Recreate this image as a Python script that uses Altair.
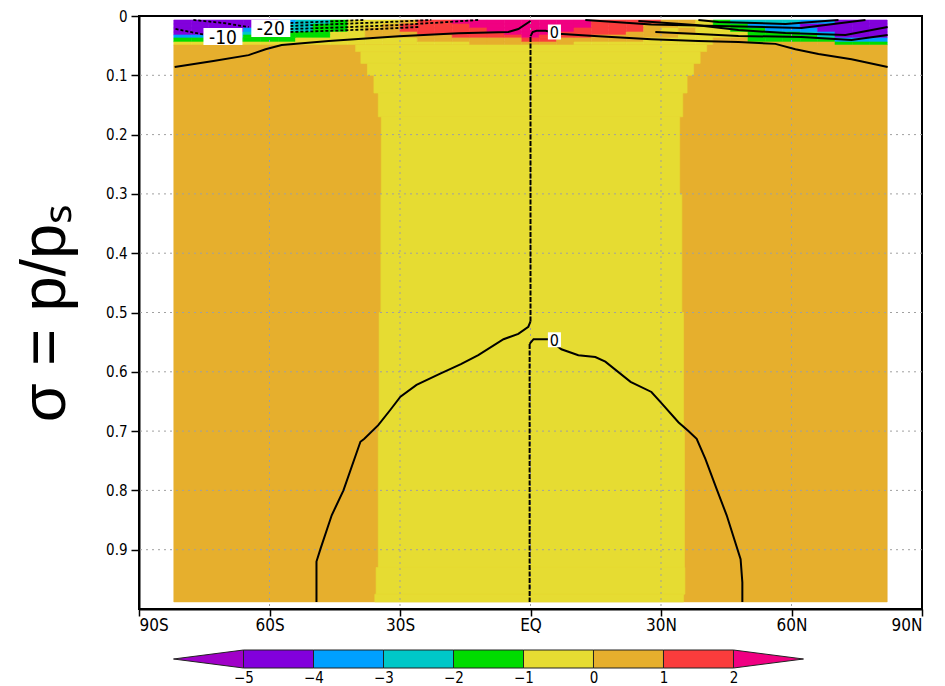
import altair as alt
import pandas as pd

FONT = "'DejaVu Sans Condensed', 'Liberation Sans Narrow', 'DejaVu Sans', sans-serif"

# ---------------- shading classes ----------------
class_codes = ["L", "V", "B", "C", "G", "Y", "O", "R", "M"]
class_colors = ["#a000c8", "#8200dc", "#00a0ff", "#00c8c8", "#00dc00",
                "#e6dc32", "#e6af2d", "#fa3c3c", "#f00082"]

# ---------------- upper (near-top) rows of the field ----------------
top_sigma_edges = [0.0067, 0.0135, 0.0202, 0.027, 0.032, 0.037, 0.0438, 0.049]
top_lat_start = -82.0
top_lat_step = 4.0
top_rows = [
    "VVVVVVBCCGYYYORRMMMMMMMMRRRROOYGCCCCBBVVV",
    "VVVVVBCCGGYYORRRRMMMMMMMRRROOYYGGBBBVVVVV",
    "VVVVBCCCGGYOORRRRRMMMMMRRRROYOYYGGBBBVVVV",
    "VVVBCCGGGYYOOORRRRRMMMRRRROOOOYYYGGGCBVVV",
    "BBBCGGGGGYYOOOOORRRRMRRROOOOOYYYYGGGGCVVV",
    "GGGGGGGYYYYYYYOOOOOORROOOOOYYYYOOGGGGGBBB",
    "YYYYYYYYYYYYYYYYYOOOOOOYYYYYYYYOOOOOOOGGG",
]

# ---------------- bulk of the field: orange flanks, yellow tropics ----------------
field_lat_edges = [-82.0, 82.0]
bulk_sigma_edges = [0.049, 0.06, 0.08, 0.10, 0.13, 0.17, 0.30, 0.50, 0.70, 0.93, 0.975, 0.988]
bulk_yellow_left = [-40.2, -39.0, -37.5, -36.0, -35.0, -34.3, -34.4, -34.8, -35.0, -35.5, -35.8]
bulk_yellow_right = [40.5, 39.0, 37.5, 36.0, 35.0, 34.3, 34.8, 35.2, 35.4, 35.5, 35.2]

# ---------------- contour lines (lat, sigma) ----------------
solid_lines = {
    "zero_sw": ([-49.2, -49.2, -48.3, -45.7, -43.0, -39.1, -38.2, -35.0, -32.2, -29.9, -26.2,
                 -21.0, -16.0, -12.0, -6.2, -2.8, -0.5, 0.0],
                [0.988, 0.92, 0.899, 0.842, 0.80, 0.718, 0.713, 0.69, 0.664, 0.642, 0.622,
                 0.604, 0.587, 0.572, 0.545, 0.536, 0.524, 0.515]),
    "zero_se": ([48.7, 48.7, 48.3, 45.1, 42.8, 40.2, 38.2, 36.3, 34.0, 29.9, 27.8, 23.0,
                 17.2, 14.9, 11.0, 7.1, 4.1, 0.7, -0.2],
                [0.988, 0.955, 0.916, 0.842, 0.798, 0.747, 0.713, 0.70, 0.685, 0.651, 0.634, 0.617,
                 0.583, 0.575, 0.572, 0.562, 0.545, 0.545, 0.553]),
    "zero_top_s": ([-81.8, -72.9, -64.8, -60.9, -57.2, -46.4, -30.3, -16.6, -5.1, -2.8, 0.0],
                   [0.086, 0.076, 0.066, 0.056, 0.049, 0.042, 0.034, 0.029, 0.027, 0.022, 0.0084]),
    "zero_top_n": ([0.0, 0.5, 1.4, 3.5, 6.4, 15.6, 27.8, 38.6, 47.8, 56.3, 60.9, 66.2, 73.8, 82.1],
                   [0.034, 0.027, 0.025, 0.025, 0.030, 0.034, 0.039, 0.042, 0.044, 0.047, 0.056,
                    0.064, 0.073, 0.086]),
    "pos1": ([38.6, 43.2, 58.6, 70.8], [0.0067, 0.0101, 0.0135, 0.0067]),
    "pos2": ([12.6, 27.8, 43.2, 62.3, 77.0], [0.0067, 0.0143, 0.0169, 0.0202, 0.0067]),
    "pos3": ([24.8, 37.9, 47.8, 58.6, 72.4, 82.1], [0.0084, 0.0152, 0.0236, 0.0287, 0.032, 0.0185]),
    "pos4": ([28.7, 38.6, 47.8, 62.3, 73.8, 82.1], [0.027, 0.0304, 0.0337, 0.0354, 0.0405, 0.032]),
}
equator_lines = {
    "eq_upper": ([0.0, 0.0], [0.515, 0.034]),
    "eq_lower": ([-0.2, -0.2], [0.553, 0.988]),
}
negative_lines = {
    "n1": ([-77.5, -70.6, -64.8], [0.0067, 0.0118, 0.0185]),
    "n2": ([-81.6, -74.7], [0.0219, 0.032]),
    "n3": ([-55.2, -46.4, -38.4], [0.0118, 0.0093, 0.0067]),
    "n4": ([-55.2, -44.1, -32.6, -22.8], [0.0169, 0.0135, 0.0101, 0.0067]),
    "n5": ([-55.2, -44.1, -30.3, -18.9, -12.0], [0.0219, 0.0194, 0.0152, 0.0101, 0.0067]),
    "n6": ([-55.2, -44.1, -34.9, -25.7], [0.027, 0.0245, 0.0219, 0.0185]),
}

# contour labels
big_label_text = ["-10", "-20"]
big_label_lat = [-70.7, -59.7]
big_label_sig = [0.0346, 0.021]
small_label_text = ["0", "0"]
small_label_lat = [5.5, 5.5]
small_label_sig = [0.027, 0.546]

# axes and grid
x_ticks = [-90, -60, -30, 0, 30, 60, 90]
y_ticks = [0, 0.1, 0.2, 0.3, 0.4, 0.5, 0.6, 0.7, 0.8, 0.9]
grid_lat = [-60, -30, 0, 30, 60]
grid_sigma = [0.1, 0.2, 0.3, 0.4, 0.5, 0.6, 0.7, 0.8, 0.9]

# colour bar
cb_lo = [-5, -4, -3, -2, -1, 0, 1]
cb_hi = [-4, -3, -2, -1, 0, 1, 2]
cb_cls = ["V", "B", "C", "G", "Y", "O", "R"]
cb_labels = [-5, -4, -3, -2, -1, 0, 1, 2]

# ---------------- build tables ----------------
cells = []
for r, row in enumerate(top_rows):
    for j, c in enumerate(row):
        lat0 = top_lat_start + j * top_lat_step
        cells.append(dict(lat0=lat0, lat1=lat0 + top_lat_step,
                          s0=top_sigma_edges[r], s1=top_sigma_edges[r + 1], cls=c))
cells.append(dict(lat0=field_lat_edges[0], lat1=field_lat_edges[1],
                  s0=bulk_sigma_edges[0], s1=bulk_sigma_edges[-1], cls="O"))
for k in range(len(bulk_yellow_left)):
    cells.append(dict(lat0=bulk_yellow_left[k], lat1=bulk_yellow_right[k],
                      s0=bulk_sigma_edges[k], s1=bulk_sigma_edges[k + 1], cls="Y"))
cells_df = pd.DataFrame(cells)
cells_df["ord"] = range(len(cells_df))


def lines_df(d):
    rows = []
    for name, (lats, sigs) in d.items():
        for i, (a, b) in enumerate(zip(lats, sigs)):
            rows.append(dict(lid=name, i=i, lat0=a, s0=b))
    return pd.DataFrame(rows)


solid_df = lines_df(solid_lines)
eq_df = lines_df(equator_lines)
neg_df = lines_df(negative_lines)
big_lab_df = pd.DataFrame(dict(lat0=big_label_lat, s0=big_label_sig, t=big_label_text))
small_lab_df = pd.DataFrame(dict(lat0=small_label_lat, s0=small_label_sig, t=small_label_text))
vgrid_df = pd.DataFrame(dict(lat0=grid_lat))
hgrid_df = pd.DataFrame(dict(s0=grid_sigma))

color_scale = alt.Scale(domain=class_codes, range=class_colors)

x_axis = alt.Axis(values=x_ticks, title=None,
                  labelExpr="datum.value == 0 ? 'EQ' : (datum.value < 0 ? (-datum.value) + 'S' : datum.value + 'N')",
                  labelFont=FONT, labelFontSize=17, labelColor="black", labelPadding=1,
                  tickSize=7, tickColor="black", tickWidth=1.5,
                  domainColor="black", domainWidth=2, grid=False)
y_axis = alt.Axis(values=y_ticks, title="σ = p/pₛ",
                  labelExpr="datum.value == 0 ? '0' : format(datum.value, '.1f')",
                  labelFont=FONT, labelFontSize=15, labelColor="black", labelPadding=4,
                  tickSize=8, tickColor="black", tickWidth=1.5,
                  domainColor="black", domainWidth=2,
                  titleFont="Liberation Sans, Arial, sans-serif", titleFontSize=63,
                  titleFontWeight="normal", titleColor="black", titlePadding=28,
                  grid=False)

xs = alt.Scale(domain=[-90, 90], nice=False, zero=False)
ys = alt.Scale(domain=[0, 1], nice=False, zero=False, reverse=True)
X = alt.X("lat0:Q", scale=xs, axis=x_axis)
Y = alt.Y("s0:Q", scale=ys, axis=y_axis)

field = alt.Chart(cells_df).mark_rect(strokeWidth=0.6).encode(
    x=X, x2="lat1:Q", y=Y, y2="s1:Q",
    color=alt.Color("cls:N", scale=color_scale, legend=None),
    stroke=alt.Stroke("cls:N", scale=color_scale, legend=None),
    order="ord:Q",
)

vgrid = alt.Chart(vgrid_df).mark_rule(color="#a0a0a0", strokeWidth=1, strokeDash=[2, 4]).encode(x=X)
hgrid = alt.Chart(hgrid_df).mark_rule(color="#a0a0a0", strokeWidth=1, strokeDash=[2, 4]).encode(y=Y)

solid = alt.Chart(solid_df).mark_line(color="black", strokeWidth=2).encode(
    x=X, y=Y, detail="lid:N", order="i:Q")
eqv = alt.Chart(eq_df).mark_line(color="black", strokeWidth=2, strokeDash=[5, 1.5]).encode(
    x=X, y=Y, detail="lid:N", order="i:Q")
neg = alt.Chart(neg_df).mark_line(color="black", strokeWidth=1.8, strokeDash=[3, 2]).encode(
    x=X, y=Y, detail="lid:N", order="i:Q")

big_box = alt.Chart(big_lab_df).mark_point(
    shape="M-1,-0.44L1,-0.44L1,0.44L-1,0.44Z", size=39 * 39, filled=True,
    color="white", opacity=1).encode(x=X, y=Y)
big_txt = alt.Chart(big_lab_df).mark_text(
    font=FONT, fontSize=19, color="black", align="center", baseline="middle", dy=1).encode(
    x=X, y=Y, text="t:N")
small_box = alt.Chart(small_lab_df).mark_point(
    shape="M-0.87,-1L0.87,-1L0.87,1L-0.87,1Z", size=15 * 15, filled=True,
    color="white", opacity=1).encode(x=X, y=Y)
small_txt = alt.Chart(small_lab_df).mark_text(
    font=FONT, fontSize=16, color="black", align="center", baseline="middle", dy=1).encode(
    x=X, y=Y, text="t:N")

main = alt.layer(field, vgrid, hgrid, solid, eqv, neg, big_box, big_txt, small_box, small_txt).properties(
    width=783, height=593, view=alt.ViewConfig(stroke="black", strokeWidth=2))

# ---------------- colour bar ----------------
cb_df = pd.DataFrame(dict(lo=cb_lo, hi=cb_hi, cls=cb_cls, b0=[0.0] * 7, b1=[1.0] * 7))
tri_df = pd.DataFrame(dict(v=[-6, -5, 2, 3], a=[0.5, 0.0, 0.0, 0.5], b=[0.5, 1.0, 1.0, 0.5],
                           cls=["L", "L", "M", "M"]))
cb_axis = alt.Axis(values=cb_labels, title=None, domain=False, ticks=False, grid=False,
                   labelFont=FONT, labelFontSize=15, labelColor="black", labelPadding=2)
cbxs = alt.Scale(domain=[-6.493, 4.693], nice=False, zero=False)
cbys = alt.Scale(domain=[0, 1], nice=False, zero=False)

cb_boxes = alt.Chart(cb_df).mark_rect(stroke="#222222", strokeWidth=1).encode(
    x=alt.X("lo:Q", scale=cbxs, axis=cb_axis), x2="hi:Q",
    y=alt.Y("b0:Q", scale=cbys, axis=None), y2="b1:Q",
    color=alt.Color("cls:N", scale=color_scale, legend=None))
cb_tris = alt.Chart(tri_df).mark_area(stroke="#222222", strokeWidth=1).encode(
    x=alt.X("v:Q", scale=cbxs, axis=cb_axis),
    y=alt.Y("a:Q", scale=cbys, axis=None),
    y2="b:Q",
    color=alt.Color("cls:N", scale=color_scale, legend=None),
    detail="cls:N")
colorbar = alt.layer(cb_tris, cb_boxes).properties(
    width=783, height=18, view=alt.ViewConfig(stroke="transparent"))

chart = alt.vconcat(main, colorbar, spacing=13).properties(
    padding={"left": 5, "top": 0, "right": 0, "bottom": 0},
    background="white",
)

chart.save("out.html", embed_options={"renderer": "svg", "actions": False})
